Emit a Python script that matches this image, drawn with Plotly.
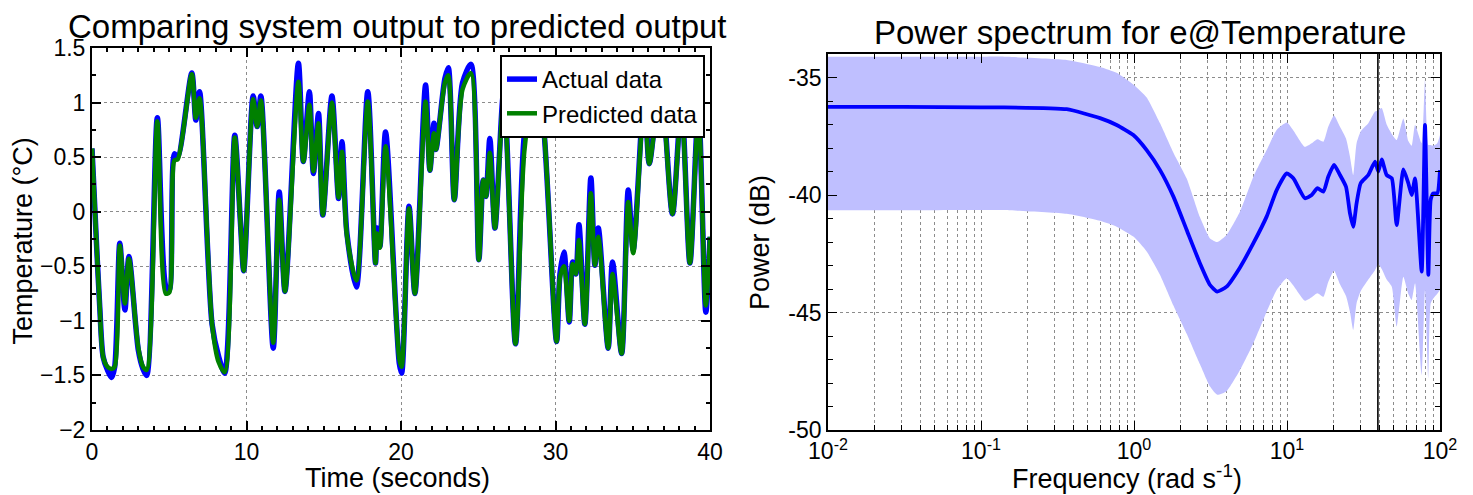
import plotly.graph_objects as go

# ---------------- Left panel data (time in s, temperature in degC) ----------------
time_s = [0.0, 0.28, 0.5, 0.72, 1.0, 1.26, 1.47, 1.8, 2.13, 2.39, 3.0, 3.3, 3.54, 4.23,
          4.77, 5.0, 5.34, 5.55, 6.46, 6.72, 6.96, 7.77, 8.2, 8.59, 9.24, 9.6, 9.82,
          10.43, 10.69, 10.93, 11.73, 12.12, 12.49, 13.36, 13.68, 14.07, 14.33, 14.66,
          14.94, 15.53, 15.96, 16.18, 16.5, 17.11, 17.85, 18.35, 18.45, 18.63, 19.0,
          19.89, 20.04, 20.52, 20.9, 21.59, 21.87, 22.13, 22.26, 22.84, 23.06, 23.45,
          23.98, 24.53, 25.04, 25.32, 25.5, 25.75, 26.08, 26.65, 27.41, 27.98, 28.7,
          29.2, 30.07, 30.29, 30.55, 30.89, 31.11, 31.32, 31.52, 31.9, 32.29, 32.55,
          32.77, 33.41, 33.69, 34.28, 34.71, 35.03, 35.75, 36.07, 36.8, 37.57, 38.15,
          38.7, 39.25, 39.73, 40.0]
actual = [0.58, -0.26, -0.87, -1.33, -1.45, -1.52, -1.42, -0.29, -0.90, -0.41, -1.27, -1.44,
          -1.50, 0.86, -0.68, -0.72, 0.53, 0.50, 1.27, 0.84, 1.10, -1.03, -1.33, -1.48,
          0.70, -0.08, -0.54, 1.06, 0.78, 1.06, -1.25, 0.18, -0.73, 1.36, 0.46, 1.10,
          0.35, 0.90, -0.03, 1.06, 0.12, 0.64, -0.20, -0.69, 1.10, -0.47, -0.15, -0.32,
          0.73, -1.39, -1.48, 0.05, -0.75, 1.16, 0.38, 0.81, 0.57, 1.22, 1.32, 0.11,
          1.18, 1.35, -0.44, 0.29, 0.14, 0.67, -0.15, 1.10, -1.21, 0.70, 1.30, 0.84,
          -1.19, -0.57, -0.37, -1.01, -0.46, -0.57, -0.12, -1.03, 0.31, -0.49, -0.15,
          -1.25, -0.46, -1.30, 0.20, -0.35, 1.10, 0.44, 1.20, -0.02, 1.00, -0.47, 0.95,
          -0.92, -0.23]
predicted = [0.58, -0.26, -0.87, -1.33, -1.42, -1.44, -1.42, -0.31, -0.84, -0.43, -1.25, -1.42,
             -1.45, 0.83, -0.75, -0.74, 0.47, 0.48, 1.26, 0.86, 1.04, -1.03, -1.38, -1.47,
             0.68, -0.08, -0.54, 1.03, 0.78, 1.02, -1.20, 0.11, -0.73, 1.19, 0.46, 0.98,
             0.37, 0.81, -0.03, 1.00, 0.13, 0.55, -0.22, -0.63, 1.01, -0.47, -0.20, -0.33,
             0.60, -1.35, -1.42, 0.03, -0.75, 1.01, 0.38, 0.72, 0.57, 1.18, 1.25, 0.11,
             1.12, 1.27, -0.44, 0.29, 0.14, 0.54, -0.15, 1.05, -1.21, 0.55, 1.25, 0.84,
             -1.19, -0.60, -0.50, -1.00, -0.48, -0.57, -0.26, -1.03, 0.17, -0.49, -0.23,
             -1.25, -0.57, -1.30, 0.09, -0.38, 1.05, 0.44, 1.15, -0.02, 0.95, -0.47, 0.90,
             -0.86, -0.23]

# ---------------- Right panel data (frequency in rad/s, power in dB) ----------------
freq = [0.01, 0.031, 0.1, 0.133, 0.363, 0.6, 0.77, 0.99, 1.21, 1.48, 1.81, 2.21, 2.70,
        3.14, 3.5, 4.03, 4.93, 6.03, 7.36, 8.56, 9.96, 11.0, 13.1, 14.5, 15.8, 17.3,
        18.6, 20.3, 22.2, 24.3, 25.8, 27.1, 28.5, 30.3, 34.0, 37.6, 39.5, 41.6, 44.8,
        48.4, 52.1, 57.6, 62.1, 65.3, 68.7, 75.9, 79.8, 83.9, 86.9, 90.4, 96.0, 100.0]
power_mean = [-36.25, -36.25, -36.27, -36.27, -36.35, -36.73, -37.02, -37.45, -38.09, -38.94,
              -40.07, -41.49, -42.91, -43.83, -44.11, -43.90, -43.08, -42.05, -40.92, -39.79,
              -39.08, -39.29, -40.14, -40.00, -39.71, -39.86, -39.22, -38.72, -39.15, -39.65,
              -40.78, -41.35, -40.35, -39.50, -39.15, -38.58, -39.00, -38.48, -39.15, -39.29,
              -41.28, -38.91, -39.50, -40.00, -39.29, -43.26, -37.02, -43.40, -40.21, -39.93,
              -39.93, -38.94]
power_upper = [-34.12, -34.12, -34.12, -34.11, -34.25, -34.55, -34.80, -35.30, -35.85, -36.95,
               -38.20, -39.30, -40.95, -41.85, -42.00, -41.70, -40.70, -39.22, -38.09, -37.23,
               -36.92, -37.25, -37.95, -37.80, -37.63, -37.73, -37.10, -36.62, -37.10, -37.60,
               -38.37, -39.15, -37.80, -37.30, -36.95, -36.45, -36.40, -36.30, -37.00, -37.40,
               -37.66, -36.74, -37.70, -37.90, -37.02, -37.80, -35.10, -37.87, -37.87, -37.90,
               -37.80, -37.45]
power_lower = [-40.65, -40.65, -40.64, -40.64, -40.80, -41.10, -41.35, -41.77, -42.40, -43.40,
               -44.70, -45.90, -47.20, -48.15, -48.50, -48.35, -47.45, -46.31, -44.97, -44.04,
               -43.54, -43.85, -44.50, -44.35, -44.18, -44.33, -43.70, -43.22, -43.80, -44.30,
               -44.97, -45.74, -44.61, -44.10, -43.60, -43.20, -42.95, -43.15, -43.60, -43.90,
               -45.60, -43.48, -44.20, -44.47, -43.76, -47.66, -44.04, -47.80, -44.61, -44.40,
               -44.20, -44.04]
nyquist_freq = 39.27

left_xticks = [0, 10, 20, 30, 40]
left_yticks = [-2, -1.5, -1, -0.5, 0, 0.5, 1, 1.5]
right_xticks = [0.01, 0.1, 1, 10, 100]
right_xticktext = ["10<sup>-2</sup>", "10<sup>-1</sup>", "10<sup>0</sup>", "10<sup>1</sup>", "10<sup>2</sup>"]
right_yticks = [-50, -45, -40, -35]
right_yticktext = ["-50", "-45", "-40", "-35"]

FONT = "Liberation Sans, Arial, Helvetica, sans-serif"
W, H = 1473, 495

fig = go.Figure()

fig.add_trace(go.Scatter(x=time_s, y=actual, mode="lines", name="Actual data",
                         line=dict(color="#0000FF", width=5.5, shape="spline", smoothing=0.8),
                         xaxis="x", yaxis="y"))
fig.add_trace(go.Scatter(x=time_s, y=predicted, mode="lines", name="Predicted data",
                         line=dict(color="#008000", width=4.5, shape="spline", smoothing=0.8),
                         xaxis="x", yaxis="y"))

fig.add_trace(go.Scatter(x=freq, y=power_upper, mode="lines",
                         line=dict(width=0, color="#BFBFFF", shape="spline", smoothing=0.5),
                         showlegend=False, xaxis="x2", yaxis="y2", hoverinfo="skip"))
fig.add_trace(go.Scatter(x=freq, y=power_lower, mode="lines",
                         line=dict(width=0, color="#BFBFFF", shape="spline", smoothing=0.5),
                         fill="tonexty", fillcolor="#BFBFFF",
                         showlegend=False, xaxis="x2", yaxis="y2", hoverinfo="skip"))
fig.add_trace(go.Scatter(x=freq, y=power_mean, mode="lines",
                         line=dict(color="#0000FF", width=3.8, shape="spline", smoothing=0.5),
                         showlegend=False, xaxis="x2", yaxis="y2"))

fig.add_shape(type="line", xref="x2", yref="y2 domain", x0=nyquist_freq, x1=nyquist_freq,
              y0=0, y1=1, line=dict(color="black", width=1.6))

grid = dict(showgrid=True, gridcolor="#8c8c8c", griddash="dot", gridwidth=1)
axline = dict(showline=True, linecolor="black", mirror="allticks", ticks="inside",
              tickcolor="black", zeroline=False, automargin=False)

fig.update_layout(
    width=W, height=H, margin=dict(l=0, r=0, t=0, b=0, autoexpand=False),
    paper_bgcolor="white", plot_bgcolor="white",
    font=dict(family=FONT, color="black", size=23),
    showlegend=True,
    legend=dict(x=705 / W, xanchor="right", y=1 - 55 / H, yanchor="top",
                bgcolor="white", bordercolor="black", borderwidth=2, traceorder="normal",
                font=dict(size=24, family=FONT), tracegroupgap=0),
    xaxis=dict(domain=[92 / W, 710 / W], range=[0, 40], tickvals=left_xticks,
               ticklen=9, tickwidth=1.5, linewidth=2, anchor="y",
               minor=dict(dtick=1, ticklen=4, ticks="inside", tickcolor="black", showgrid=False),
               tickfont=dict(size=23), **grid, **axline),
    yaxis=dict(domain=[1 - 430 / H, 1 - 48 / H], range=[-2, 1.5], tickvals=left_yticks,
               ticklen=9, tickwidth=1.5, linewidth=2, anchor="x",
               minor=dict(dtick=0.25, tick0=0, ticklen=4, ticks="inside", tickcolor="black", showgrid=False),
               tickfont=dict(size=23), **grid, **axline),
    xaxis2=dict(domain=[828 / W, 1440 / W], type="log", range=[-2, 2],
                tickvals=right_xticks, ticktext=right_xticktext,
                ticklen=9, tickwidth=1.2, linewidth=1.6, anchor="y2",
                minor=dict(dtick="D1", ticklen=5, ticks="inside", tickcolor="black",
                           showgrid=True, gridcolor="#8c8c8c", griddash="dot", gridwidth=1),
                tickfont=dict(size=23), **grid, **axline),
    yaxis2=dict(domain=[1 - 430 / H, 1 - 54 / H], range=[-50, -34],
                tickvals=right_yticks, ticktext=right_yticktext,
                ticklen=9, tickwidth=1.2, linewidth=1.6, anchor="x2",
                minor=dict(dtick=1, tick0=-50, ticklen=5, ticks="inside", tickcolor="black", showgrid=False),
                tickfont=dict(size=23), **grid, **axline),
)

annots = [
    dict(text="Comparing system output to predicted output", x=398 / W, y=1 - 26.5 / H,
         xanchor="center", yanchor="middle", font=dict(size=33)),
    dict(text="Power spectrum for e@Temperature", x=1140 / W, y=1 - 32.5 / H,
         xanchor="center", yanchor="middle", font=dict(size=33)),
    dict(text="Time (seconds)", x=398 / W, y=1 - 478 / H, xanchor="center", yanchor="middle",
         font=dict(size=27)),
    dict(text="Frequency (rad s<sup>-1</sup>)", x=1127 / W, y=1 - 477 / H, xanchor="center",
         yanchor="middle", font=dict(size=27)),
    dict(text="Temperature (°C)", x=22.5 / W, y=1 - 241 / H, xanchor="center", yanchor="middle",
         textangle=-90, font=dict(size=27)),
    dict(text="Power (dB)", x=760 / W, y=1 - 243 / H, xanchor="center", yanchor="middle",
         textangle=-90, font=dict(size=27)),
]
for a in annots:
    fig.add_annotation(xref="paper", yref="paper", showarrow=False, **a)

fig.write_html("out.html")
